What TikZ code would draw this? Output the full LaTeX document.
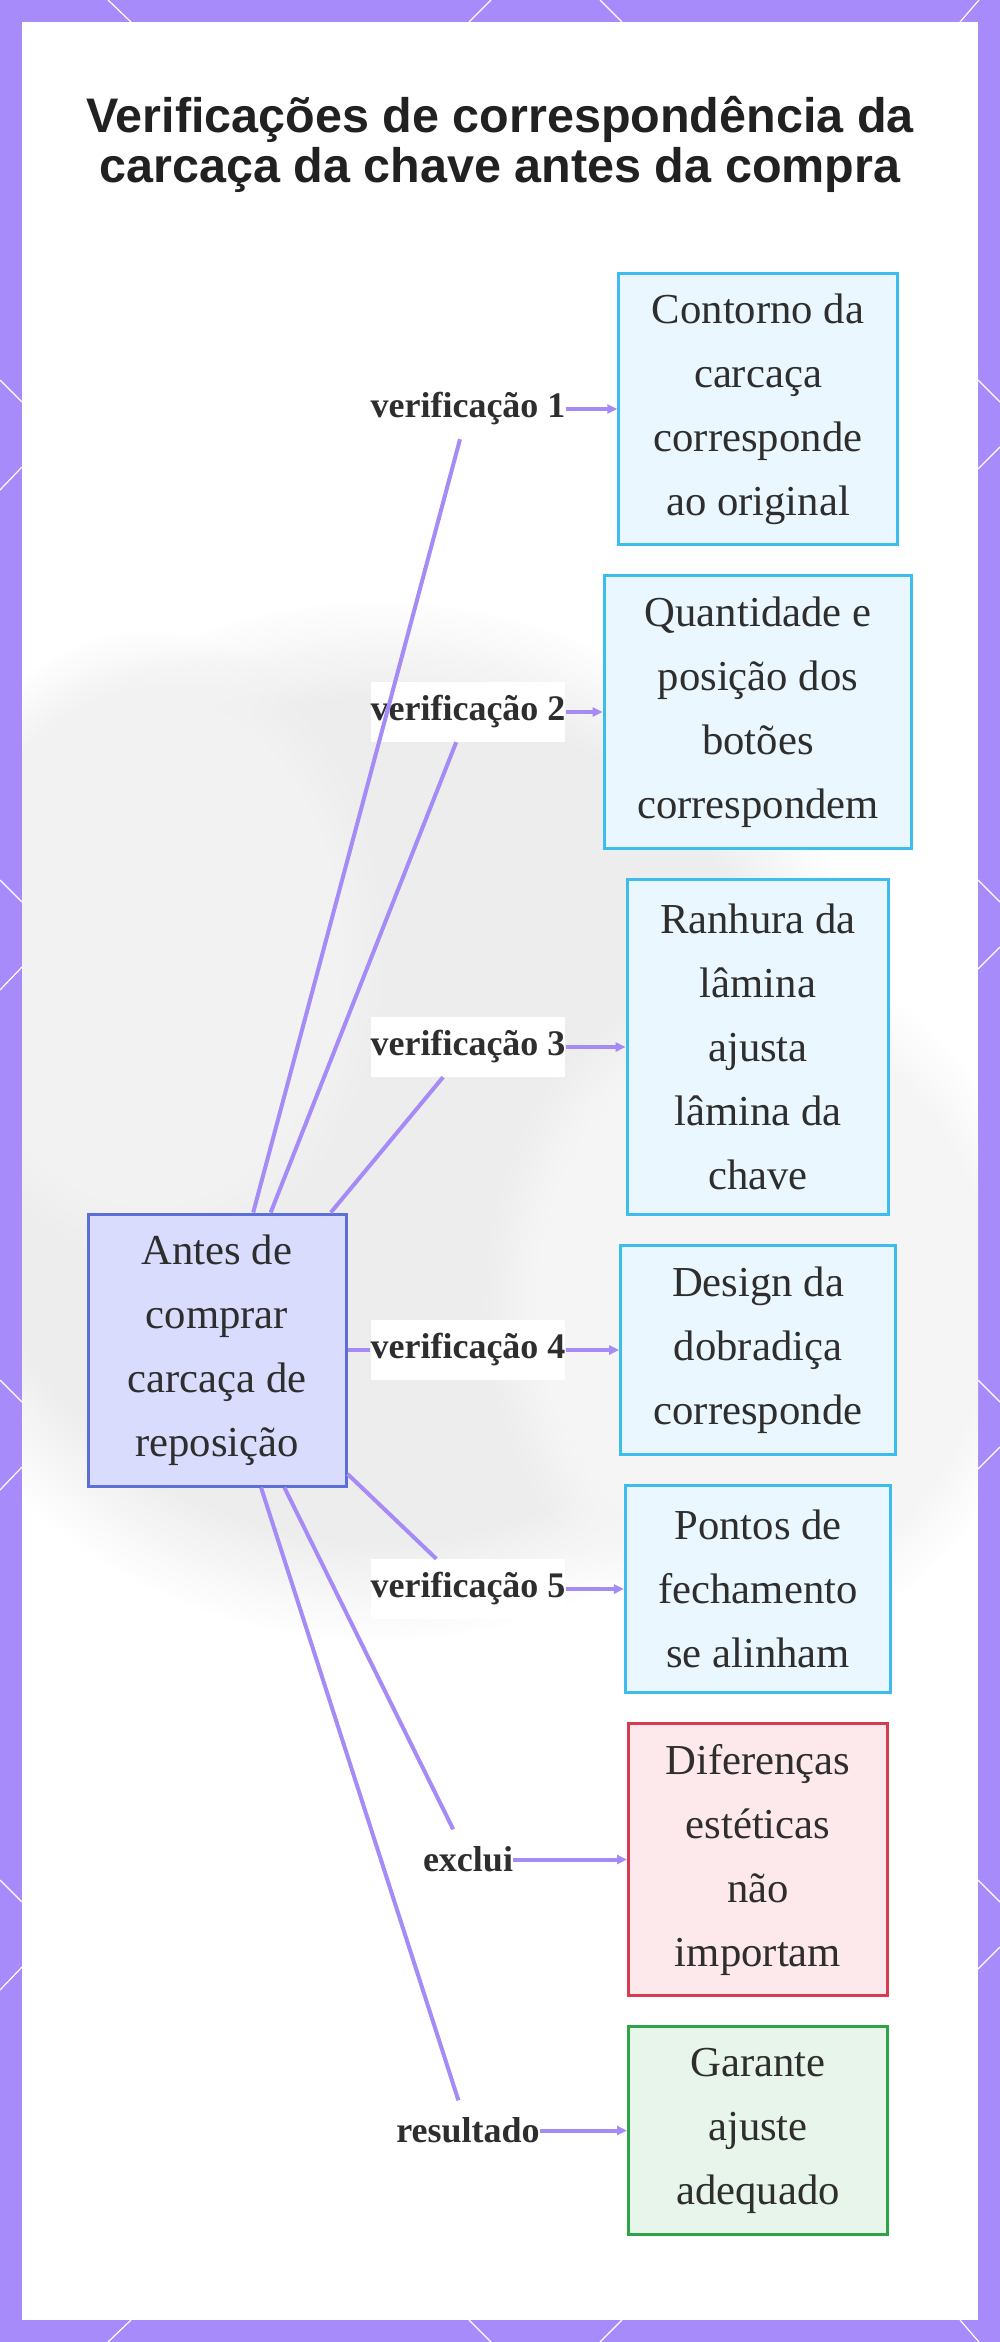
\documentclass[tikz,border=0pt]{standalone}
\usepackage{fontspec}
\setmainfont{Liberation Serif}
\newfontfamily\titlefont{Liberation Sans}
\usetikzlibrary{positioning, arrows.meta, fadings}

\definecolor{framec}{HTML}{A78BFA}
\definecolor{linec}{HTML}{A68BF7}
\definecolor{hubfill}{HTML}{D9DCFC}
\definecolor{hubdraw}{HTML}{5B6FD6}
\definecolor{chkfill}{HTML}{EBF7FE}
\definecolor{chkdraw}{HTML}{3DBDED}
\definecolor{badfill}{HTML}{FDE8EB}
\definecolor{baddraw}{HTML}{D63B50}
\definecolor{goodfill}{HTML}{E7F5EA}
\definecolor{gooddraw}{HTML}{2EA448}
\definecolor{inkc}{HTML}{2E2E2E}

\begin{document}
\begin{tikzpicture}[
    x=1pt, y=-1pt,
    box/.style={rectangle, draw, line width=3pt, align=center,
                inner xsep=33pt, inner ysep=0pt, text=inkc,
                font=\fontsize{42.7}{64}\selectfont},
    hub/.style={box, fill=hubfill, draw=hubdraw, minimum width=258pt},
    chk/.style={box, fill=chkfill, draw=chkdraw},
    bad/.style={box, fill=badfill, draw=baddraw, minimum width=259pt},
    good/.style={box, fill=goodfill, draw=gooddraw, minimum width=259pt},
    lbl/.style={fill=white, inner xsep=0pt, inner ysep=0pt,
                minimum height=60pt, text=inkc,
                font=\bfseries\fontsize{36}{40}\selectfont},
    link/.style={draw=linec, line width=4pt},
    arrow/.style={link, -{Triangle[length=10pt, width=9pt]}},
    tick/.style={draw=white, line width=1.2pt}
]
  \useasboundingbox (0,0) rectangle (1000,2342);

  % frame and panel
  \fill[framec] (0,0) rectangle (1000,2342);
  \foreach \a/\b in {108/131, 491/469, 600/622, 979/960} {
    \draw[tick] (\a,0) -- (\b,22);
    \draw[tick] (\a,2342) -- (\b,2320);
  }
  \foreach \y in {380, 880, 1380, 1880} {
    \draw[tick] (0,\y) -- (22,\y+22);
    \draw[tick] (22,\y+87) -- (0,\y+110);
    \draw[tick] (978,\y) -- (1000,\y+22);
    \draw[tick] (1000,\y+67) -- (978,\y+89);
  }
  \fill[white] (22,22) rectangle (978,2320);

  % faded backdrop, kept inside the panel
  \begin{scope}
    \clip (22,22) rectangle (978,2320);
    \fill[black!7, path fading=circle with fuzzy edge 20 percent]
      (380,1120) ellipse (520 and 520);
    \fill[black!5, path fading=circle with fuzzy edge 20 percent]
      (150,950) ellipse (240 and 320);
    \fill[black!4, path fading=circle with fuzzy edge 20 percent]
      (760,1300) ellipse (280 and 340);
  \end{scope}

  \node[font=\titlefont\bfseries\fontsize{48.5}{50}\selectfont,
        align=center, text=black!87] (ttl) at (500,144)
    {Verificações de correspondência da\\carcaça da chave antes da compra};

  \node[hub, minimum height=272pt] (hub) at (217,1350)
    {Antes de\\comprar\\carcaça de\\reposição};

  % checks, top to bottom
  \node[chk, minimum height=271pt] (c1) at (758,409)
    {Contorno da\\carcaça\\corresponde\\ao original};
  \node[chk, minimum height=273pt, below=28pt of c1] (c2)
    {Quantidade e\\posição dos\\botões\\correspondem};
  \node[chk, minimum height=335pt, below=28pt of c2] (c3)
    {Ranhura da\\lâmina\\ajusta\\lâmina da\\chave};
  \node[chk, minimum height=209pt, below=28pt of c3] (c4)
    {Design da\\dobradiça\\corresponde};
  \node[chk, minimum height=207pt, below=28pt of c4] (c5)
    {Pontos de\\fechamento\\se alinham};
  \node[bad, minimum height=272pt, below=28pt of c5] (nope)
    {Diferenças\\estéticas\\não\\importam};
  \node[good, minimum height=208pt, below=28pt of nope] (fit)
    {Garante\\ajuste\\adequado};

  % edge labels
  \coordinate (lx) at (468,0);
  \node[lbl] (l1) at (lx |- c1) {verificação 1};
  \node[lbl] (l2) at (lx |- c2) {verificação 2};
  \node[lbl] (l3) at (lx |- c3) {verificação 3};
  \node[lbl] (l4) at (lx |- c4) {verificação 4};
  \node[lbl] (l5) at (lx |- c5) {verificação 5};
  \node[lbl] (l6) at (lx |- nope) {exclui};
  \node[lbl] (l7) at (lx |- fit) {resultado};

  \draw[link] (hub) -- (l1);
  \draw[link] (hub) -- (l2);
  \draw[link] (hub) -- (l3);
  \draw[link] (hub) -- (l4);
  \draw[link] (hub) -- (l5);
  \draw[link] (hub) -- (l6);
  \draw[link] (hub) -- (l7);

  \draw[arrow] (l1) -- (c1);
  \draw[arrow] (l2) -- (c2);
  \draw[arrow] (l3) -- (c3);
  \draw[arrow] (l4) -- (c4);
  \draw[arrow] (l5) -- (c5);
  \draw[arrow] (l6) -- (nope);
  \draw[arrow] (l7) -- (fit);
\end{tikzpicture}
\end{document}
